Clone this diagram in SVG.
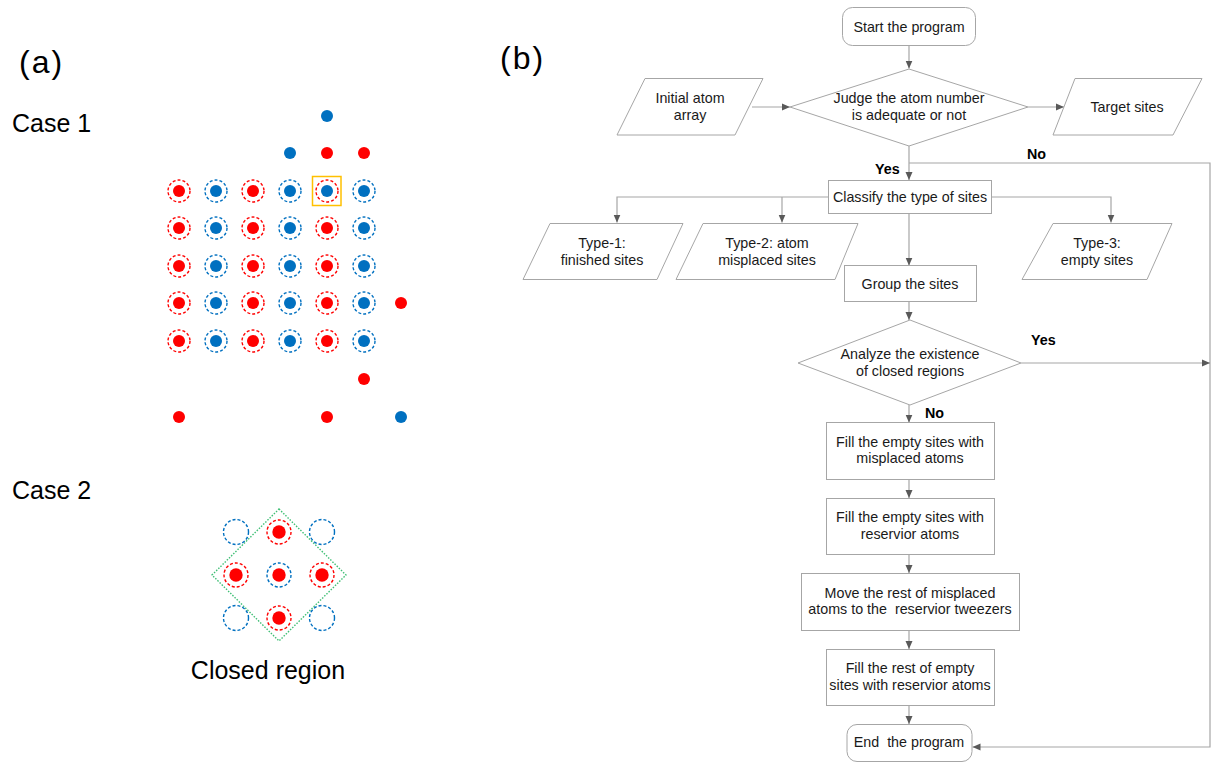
<svg xmlns="http://www.w3.org/2000/svg" width="1216" height="763" viewBox="0 0 1216 763">
<defs>
<marker id="ah" markerUnits="userSpaceOnUse" markerWidth="9" markerHeight="9" refX="8" refY="4" orient="auto">
<path d="M0,0.5 L8,4 L0,7.5 Z" fill="#595959"/>
</marker>
<style>
.lbl{font-family:"Liberation Sans",Arial,sans-serif;fill:#000}
.ft{font-family:"Liberation Sans",Arial,sans-serif;font-size:14.3px;fill:#1a1a1a;text-anchor:middle}
.fb{font-family:"Liberation Sans",Arial,sans-serif;font-size:14.3px;font-weight:bold;fill:#000}
.box{fill:#fff;stroke:#a6a6a6;stroke-width:1}
.con{fill:none;stroke:#a6a6a6;stroke-width:1.2}
.rd{fill:#ff0000}
.bd{fill:#0070c0}
.rr{fill:none;stroke:#ff0000;stroke-width:1.4;stroke-dasharray:3 2}
.br{fill:none;stroke:#0070c0;stroke-width:1.4;stroke-dasharray:3 2}
</style>
</defs>
<rect width="1216" height="763" fill="#fff"/>

<!-- Panel labels -->
<text class="lbl" x="19" y="73" font-size="32" letter-spacing="2">(a)</text>
<text class="lbl" x="500" y="69" font-size="32" letter-spacing="2">(b)</text>
<text class="lbl" x="12" y="132" font-size="25">Case 1</text>
<text class="lbl" x="12" y="499" font-size="25">Case 2</text>
<text class="lbl" x="268" y="679" font-size="25" text-anchor="middle">Closed region</text>

<!-- Case 1 -->
<g id="case1">
<g id="rings1">
<circle class="rr" cx="179" cy="191" r="11"/><circle class="br" cx="216" cy="191" r="11"/><circle class="rr" cx="253" cy="191" r="11"/><circle class="br" cx="290" cy="191" r="11"/><circle class="rr" cx="327" cy="191" r="11"/><circle class="br" cx="364" cy="191" r="11"/>
<circle class="rr" cx="179" cy="228" r="11"/><circle class="br" cx="216" cy="228" r="11"/><circle class="rr" cx="253" cy="228" r="11"/><circle class="br" cx="290" cy="228" r="11"/><circle class="rr" cx="327" cy="228" r="11"/><circle class="br" cx="364" cy="228" r="11"/>
<circle class="rr" cx="179" cy="266" r="11"/><circle class="br" cx="216" cy="266" r="11"/><circle class="rr" cx="253" cy="266" r="11"/><circle class="br" cx="290" cy="266" r="11"/><circle class="rr" cx="327" cy="266" r="11"/><circle class="br" cx="364" cy="266" r="11"/>
<circle class="rr" cx="179" cy="303" r="11"/><circle class="br" cx="216" cy="303" r="11"/><circle class="rr" cx="253" cy="303" r="11"/><circle class="br" cx="290" cy="303" r="11"/><circle class="rr" cx="327" cy="303" r="11"/><circle class="br" cx="364" cy="303" r="11"/>
<circle class="rr" cx="179" cy="341" r="11"/><circle class="br" cx="216" cy="341" r="11"/><circle class="rr" cx="253" cy="341" r="11"/><circle class="br" cx="290" cy="341" r="11"/><circle class="rr" cx="327" cy="341" r="11"/><circle class="br" cx="364" cy="341" r="11"/>
</g>
<g id="dots1">
<circle class="rd" cx="179" cy="191" r="6"/><circle class="bd" cx="216" cy="191" r="6"/><circle class="rd" cx="253" cy="191" r="6"/><circle class="bd" cx="290" cy="191" r="6"/><circle class="bd" cx="327" cy="191" r="6"/><circle class="bd" cx="364" cy="191" r="6"/>
<circle class="rd" cx="179" cy="228" r="6"/><circle class="bd" cx="216" cy="228" r="6"/><circle class="rd" cx="253" cy="228" r="6"/><circle class="bd" cx="290" cy="228" r="6"/><circle class="rd" cx="327" cy="228" r="6"/><circle class="bd" cx="364" cy="228" r="6"/>
<circle class="rd" cx="179" cy="266" r="6"/><circle class="bd" cx="216" cy="266" r="6"/><circle class="rd" cx="253" cy="266" r="6"/><circle class="bd" cx="290" cy="266" r="6"/><circle class="rd" cx="327" cy="266" r="6"/><circle class="bd" cx="364" cy="266" r="6"/>
<circle class="rd" cx="179" cy="303" r="6"/><circle class="bd" cx="216" cy="303" r="6"/><circle class="rd" cx="253" cy="303" r="6"/><circle class="bd" cx="290" cy="303" r="6"/><circle class="rd" cx="327" cy="303" r="6"/><circle class="bd" cx="364" cy="303" r="6"/>
<circle class="rd" cx="179" cy="341" r="6"/><circle class="bd" cx="216" cy="341" r="6"/><circle class="rd" cx="253" cy="341" r="6"/><circle class="bd" cx="290" cy="341" r="6"/><circle class="rd" cx="327" cy="341" r="6"/><circle class="bd" cx="364" cy="341" r="6"/>
<circle class="bd" cx="327" cy="116" r="6"/>
<circle class="bd" cx="290" cy="153" r="6"/><circle class="rd" cx="327" cy="153" r="6"/><circle class="rd" cx="364" cy="153" r="6"/>
<circle class="rd" cx="401" cy="303" r="6"/>
<circle class="rd" cx="364" cy="379" r="6"/>
<circle class="rd" cx="179" cy="417" r="6"/><circle class="rd" cx="327" cy="417" r="6"/><circle class="bd" cx="401" cy="417" r="6"/>
</g>
<rect x="312.5" y="176.5" width="28.5" height="29" fill="none" stroke="#ffc000" stroke-width="1.5"/>
</g>

<!-- Case 2 -->
<g id="case2">
<polygon points="279,509 346,575 279,641 212,575" fill="none" stroke="#3fbf75" stroke-width="1.4" stroke-dasharray="1.5 1.5"/>
<circle class="br" cx="236" cy="532" r="12.5"/><circle class="br" cx="322" cy="532" r="12.5"/>
<circle class="br" cx="236" cy="618" r="12.5"/><circle class="br" cx="322" cy="618" r="12.5"/>
<circle class="rr" cx="279" cy="532" r="12"/><circle class="rd" cx="279" cy="532" r="6.7"/>
<circle class="rr" cx="236" cy="575" r="12"/><circle class="rd" cx="236" cy="575" r="6.7"/>
<circle class="br" cx="279" cy="575" r="12"/><circle class="rd" cx="279" cy="575" r="6.7"/>
<circle class="rr" cx="322" cy="575" r="12"/><circle class="rd" cx="322" cy="575" r="6.7"/>
<circle class="rr" cx="279" cy="618" r="12"/><circle class="rd" cx="279" cy="618" r="6.7"/>
</g>

<!-- Connectors -->
<g id="connectors">
<path class="con" d="M909,45 V68.5" marker-end="url(#ah)"/>
<path class="con" d="M752,107 H790" marker-end="url(#ah)"/>
<path class="con" d="M1028,107 H1064" marker-end="url(#ah)"/>
<path class="con" d="M909,146 V180" marker-end="url(#ah)"/>
<path class="con" d="M909,163 H1210 V747 H972.5" marker-end="url(#ah)"/>
<path class="con" d="M828,197 H617 V222.5" marker-end="url(#ah)"/>
<path class="con" d="M782,197 V222.5" marker-end="url(#ah)"/>
<path class="con" d="M991,197 H1111 V222.5" marker-end="url(#ah)"/>
<path class="con" d="M909,214 V265.5" marker-end="url(#ah)"/>
<path class="con" d="M909,302 V320" marker-end="url(#ah)"/>
<path class="con" d="M1021,363 H1210" marker-end="url(#ah)"/>
<path class="con" d="M909,405 V422.5" marker-end="url(#ah)"/>
<path class="con" d="M909,479 V498" marker-end="url(#ah)"/>
<path class="con" d="M909,554 V573" marker-end="url(#ah)"/>
<path class="con" d="M909,630 V649" marker-end="url(#ah)"/>
<path class="con" d="M909,706 V724" marker-end="url(#ah)"/>
<text class="fb" x="875" y="174">Yes</text>
<text class="fb" x="1027" y="159">No</text>
<text class="fb" x="1031" y="345">Yes</text>
<text class="fb" x="925" y="418">No</text>
</g>

<!-- Nodes -->
<g id="start"><rect class="box" x="842.5" y="7.5" width="133" height="38" rx="10" stroke="#595959"/><text class="ft" x="909" y="32">Start the program</text></g>
<g id="judge"><polygon class="box" points="909,69 1028,107 909,146 790,107"/><text class="ft" x="909" y="103">Judge the atom number</text><text class="ft" x="909" y="119.5">is adequate or not</text></g>
<g id="initial"><polygon class="box" points="645,78.5 763,78.5 735,135 617,135"/><text class="ft" x="690" y="103">Initial atom</text><text class="ft" x="690" y="119.5">array</text></g>
<g id="target"><polygon class="box" points="1075,78.5 1202,78.5 1173,135 1053,135"/><text class="ft" x="1127" y="112">Target sites</text></g>
<g id="classify"><rect class="box" x="828.5" y="180.5" width="163" height="33"/><text class="ft" x="910" y="202">Classify the type of sites</text></g>
<g id="type1"><polygon class="box" points="550,223.5 683,223.5 657,279.5 523,279.5"/><text class="ft" x="602" y="248">Type-1:</text><text class="ft" x="602" y="264.5">finished sites</text></g>
<g id="type2"><polygon class="box" points="703,223.5 858,223.5 835,279.5 676,279.5"/><text class="ft" x="767" y="248">Type-2: atom</text><text class="ft" x="767" y="264.5">misplaced sites</text></g>
<g id="type3"><polygon class="box" points="1053,223.5 1172,223.5 1147,279.5 1022,279.5"/><text class="ft" x="1097" y="248">Type-3:</text><text class="ft" x="1097" y="264.5">empty sites</text></g>
<g id="group"><rect class="box" x="844.5" y="265.5" width="132" height="36"/><text class="ft" x="910" y="289">Group the sites</text></g>
<g id="analyze"><polygon class="box" points="910,320 1021,363 910,405 798,363"/><text class="ft" x="910" y="359">Analyze the existence</text><text class="ft" x="910" y="375.5">of closed regions</text></g>
<g id="fill1"><rect class="box" x="826.5" y="422.5" width="168" height="57"/><text class="ft" x="910" y="446.5">Fill the empty sites with</text><text class="ft" x="910" y="463">misplaced atoms</text></g>
<g id="fill2"><rect class="box" x="826.5" y="498.5" width="168" height="56"/><text class="ft" x="910" y="522">Fill the empty sites with</text><text class="ft" x="910" y="538.5">reservior atoms</text></g>
<g id="move"><rect class="box" x="801.5" y="573.5" width="218" height="57"/><text class="ft" x="910" y="597.5">Move the rest of misplaced</text><text class="ft" x="910" y="614" xml:space="preserve">atoms to the  reservior tweezers</text></g>
<g id="fill3"><rect class="box" x="826.5" y="649.5" width="168" height="56"/><text class="ft" x="910" y="673">Fill the rest of empty</text><text class="ft" x="910" y="689.5">sites with reservior atoms</text></g>
<g id="end"><rect class="box" x="847" y="724.5" width="125" height="37" rx="10"/><text class="ft" x="909" y="747" xml:space="preserve">End  the program</text></g>
</svg>
